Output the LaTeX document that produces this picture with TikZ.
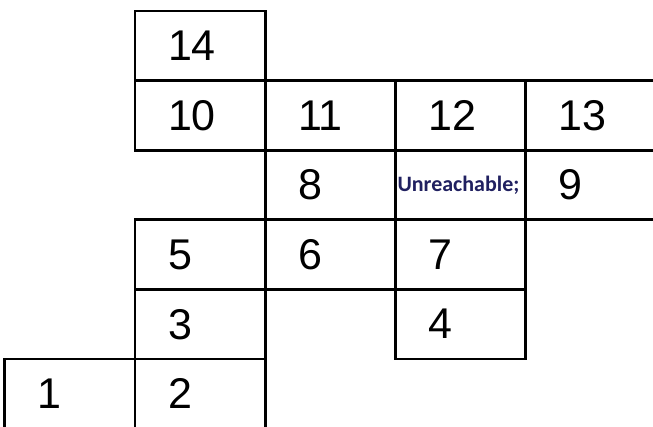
\documentclass[tikz,border=0pt]{standalone}
\usepackage{fontspec}
\setmainfont{Liberation Sans}
\newfontfamily\notefont{Carlito}
\usepackage{xcolor}
\usepackage{tikz}
\usetikzlibrary{positioning}
\definecolor{notenavy}{RGB}{32,32,96}

\begin{document}
\begin{tikzpicture}[x=1pt,y=1pt,
  cell/.style={draw, line width=2.8pt, minimum width=130.25pt, minimum height=69.6pt, text width=64.25pt, inner xsep=33pt, inner ysep=0pt, outer sep=0pt, align=left, font=\fontsize{43}{50}\selectfont},
  note/.style={cell, text width=126.25pt, inner xsep=2pt, text=notenavy, font=\notefont\bfseries\fontsize{22}{26}\selectfont}
]
\useasboundingbox (0,0) rectangle (653,426);
\node[cell, anchor=north west] (c14) at (135,415) {14};
\node[cell, below=0pt of c14] (c10) {10};
\node[cell, right=0pt of c10] (c11) {11};
\node[cell, right=0pt of c11] (c12) {12};
\node[cell, right=0pt of c12] (c13) {13};
\node[cell, below=0pt of c11] (c8) {8};
\node[note, below=0pt of c12] (unreach) {Unreachable;};
\node[cell, below=0pt of c13] (c9) {9};
\node[cell, below=0pt of c8] (c6) {6};
\node[cell, left=0pt of c6] (c5) {5};
\node[cell, below=0pt of unreach] (c7) {7};
\node[cell, below=0pt of c5] (c3) {3};
\node[cell, below=0pt of c7] (c4) {4};
\node[cell, below=0pt of c3] (c2) {2};
\node[cell, left=0pt of c2] (c1) {1};
\end{tikzpicture}
\end{document}
